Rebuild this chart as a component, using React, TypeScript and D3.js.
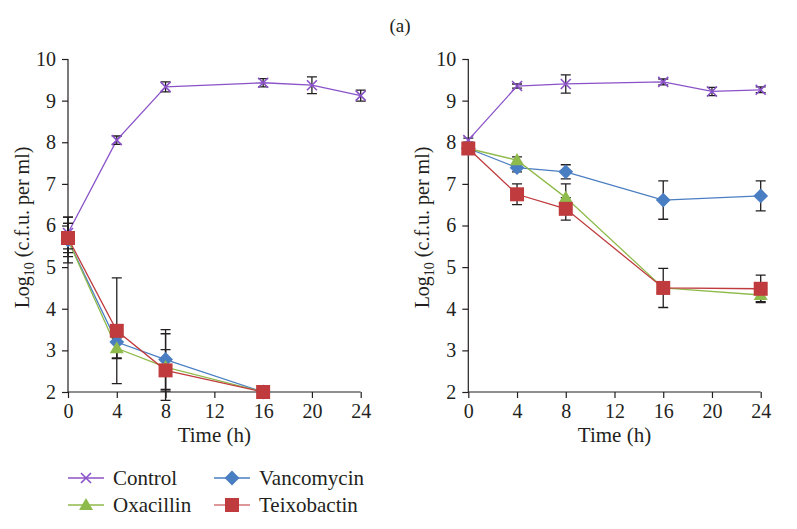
import React, { useEffect, useRef } from 'react';
import * as d3 from 'd3';

// time points (h)
const timesFull = [0, 4, 8, 16, 20, 24];
const timesLeftDrug = [0, 4, 8, 16];
const timesRightDrug = [0, 4, 8, 16, 24];
const xTicks = [0, 4, 8, 12, 16, 20, 24];
const yTicks = [2, 3, 4, 5, 6, 7, 8, 9, 10];

// left panel
const leftControl = [5.82, 8.05, 9.33, 9.43, 9.37, 9.12];
const leftControlErr = [0.38, 0.1, 0.12, 0.1, 0.2, 0.13];
const leftVanco = [5.65, 3.2, 2.78, 2.0];
const leftVancoErr = [0.55, 0.38, 0.72, 0];
const leftOxa = [5.65, 3.05, 2.6, 2.0];
const leftOxaErr = [0.4, 0.25, 0.8, 0];
const leftTeixo = [5.7, 3.47, 2.52, 2.0];
const leftTeixoErr = [0.35, 1.27, 0.5, 0];

// right panel
const rightControl = [8.05, 9.35, 9.4, 9.45, 9.22, 9.26];
const rightControlErr = [0.05, 0.05, 0.22, 0.07, 0.1, 0.07];
const rightVanco = [7.85, 7.39, 7.29, 6.61, 6.71];
const rightVancoErr = [0.05, 0.1, 0.17, 0.46, 0.36];
const rightOxa = [7.85, 7.57, 6.67, 4.5, 4.33];
const rightOxaErr = [0.05, 0.08, 0.33, 0.1, 0.16];
const rightTeixo = [7.85, 6.75, 6.4, 4.5, 4.48];
const rightTeixoErr = [0.05, 0.25, 0.27, 0.47, 0.33];

const seriesNames = ['Control', 'Vancomycin', 'Oxacillin', 'Teixobactin'];
const colors = {
  Control: '#8a52c8',
  Vancomycin: '#4a7ec2',
  Oxacillin: '#8fba4c',
  Teixobactin: '#bf3b3d',
};

const font = '"Liberation Serif", "Times New Roman", serif';

const App = () => {
  const ref = useRef(null);

  useEffect(() => {
    const width = 797;
    const height = 529;
    const top = 59;
    const bottom = 392;

    const svg = d3.select(ref.current);
    svg.selectAll('*').remove();
    svg.attr('width', width).attr('height', height).attr('viewBox', [0, 0, width, height]);
    svg.append('rect').attr('width', width).attr('height', height).attr('fill', 'white');

    svg.append('text')
      .attr('x', 400).attr('y', 32)
      .attr('text-anchor', 'middle')
      .attr('font-family', font).attr('font-size', 19)
      .attr('fill', '#231f20')
      .text('(a)');

    const drawMarker = (g, name, cx, cy) => {
      const c = colors[name];
      if (name === 'Control') {
        const s = 5;
        g.append('path')
          .attr('d', `M${cx - s},${cy - s}L${cx + s},${cy + s}M${cx - s},${cy + s}L${cx + s},${cy - s}`)
          .attr('stroke', c).attr('stroke-width', 1.6).attr('fill', 'none');
      } else if (name === 'Vancomycin') {
        g.append('path')
          .attr('d', d3.symbol(d3.symbolSquare, 110)())
          .attr('transform', `translate(${cx},${cy}) rotate(45)`)
          .attr('fill', c);
      } else if (name === 'Oxacillin') {
        g.append('path')
          .attr('d', d3.symbol(d3.symbolTriangle, 85)())
          .attr('transform', `translate(${cx},${cy + 1})`)
          .attr('fill', c);
      } else {
        g.append('path')
          .attr('d', d3.symbol(d3.symbolSquare, 196)())
          .attr('transform', `translate(${cx},${cy})`)
          .attr('fill', c);
      }
    };

    const panel = (left, right, series) => {
      const x = d3.scaleLinear().domain([0, 24]).range([left, right]);
      const y = d3.scaleLinear().domain([2, 10]).range([bottom, top]);
      const g = svg.append('g');

      const xa = g.append('g')
        .attr('transform', `translate(0,${bottom})`)
        .call(d3.axisBottom(x).tickValues(xTicks).tickSize(6).tickPadding(6).tickFormat(d3.format('d')));
      const ya = g.append('g')
        .attr('transform', `translate(${left},0)`)
        .call(d3.axisLeft(y).tickValues(yTicks).tickSize(6).tickPadding(6));
      [xa, ya].forEach(a => {
        a.select('.domain').attr('stroke', '#231f20').attr('stroke-width', 1.2)
          .attr('d', a === xa ? `M${left},0H${right}` : `M0,${bottom}V${top}`);
        a.selectAll('.tick line').attr('stroke', '#231f20').attr('stroke-width', 1.2);
        a.selectAll('.tick text')
          .attr('font-family', font).attr('font-size', 20).attr('fill', '#231f20');
      });

      g.append('text')
        .attr('x', (left + right) / 2).attr('y', 442)
        .attr('text-anchor', 'middle')
        .attr('font-family', font).attr('font-size', 21).attr('fill', '#231f20')
        .text('Time (h)');

      const yl = g.append('text')
        .attr('transform', `translate(${left - 39},${(top + bottom) / 2 + 2}) rotate(-90)`)
        .attr('text-anchor', 'middle')
        .attr('font-family', font).attr('font-size', 20).attr('fill', '#231f20');
      yl.append('tspan').text('Log');
      yl.append('tspan').attr('font-size', 14).attr('dy', 5).text('10');
      yl.append('tspan').attr('dy', -5).text(' (c.f.u. per ml)');

      const line = d3.line().x(d => x(d.t)).y(d => y(d.v));
      const pts = series.map(s => ({
        name: s.name,
        data: s.times.map((t, i) => ({ t, v: s.values[i], e: s.err[i] })),
      }));

      pts.forEach(s => {
        g.append('path')
          .attr('d', line(s.data))
          .attr('fill', 'none')
          .attr('stroke', colors[s.name])
          .attr('stroke-width', 1.3);
      });

      pts.forEach(s => {
        s.data.forEach(d => {
          if (!d.e) return;
          const cx = x(d.t);
          const y0 = y(d.v - d.e);
          const y1 = y(d.v + d.e);
          g.append('path')
            .attr('d', `M${cx},${y0}V${y1}M${cx - 5},${y0}H${cx + 5}M${cx - 5},${y1}H${cx + 5}`)
            .attr('stroke', '#231f20').attr('stroke-width', 1.3).attr('fill', 'none');
        });
      });

      pts.forEach(s => {
        s.data.forEach(d => drawMarker(g, s.name, x(d.t), y(d.v)));
      });
    };

    panel(68, 360.7, [
      { name: 'Control', times: timesFull, values: leftControl, err: leftControlErr },
      { name: 'Vancomycin', times: timesLeftDrug, values: leftVanco, err: leftVancoErr },
      { name: 'Oxacillin', times: timesLeftDrug, values: leftOxa, err: leftOxaErr },
      { name: 'Teixobactin', times: timesLeftDrug, values: leftTeixo, err: leftTeixoErr },
    ]);
    panel(468.3, 760.7, [
      { name: 'Control', times: timesFull, values: rightControl, err: rightControlErr },
      { name: 'Vancomycin', times: timesRightDrug, values: rightVanco, err: rightVancoErr },
      { name: 'Oxacillin', times: timesRightDrug, values: rightOxa, err: rightOxaErr },
      { name: 'Teixobactin', times: timesRightDrug, values: rightTeixo, err: rightTeixoErr },
    ]);

    // legend
    const legend = svg.append('g');
    seriesNames.forEach((name, i) => {
      const col = i % 2;
      const row = Math.floor(i / 2);
      const lx = col === 0 ? 68 : 214;
      const ly = 478 + row * 27;
      legend.append('line')
        .attr('x1', lx).attr('x2', lx + 36)
        .attr('y1', ly).attr('y2', ly)
        .attr('stroke', colors[name]).attr('stroke-width', 1.5)
        .attr('stroke-opacity', name === 'Teixobactin' ? 0.7 : 1);
      drawMarker(legend, name, lx + 18, ly);
      legend.append('text')
        .attr('x', lx + 45).attr('y', ly)
        .attr('dy', '0.33em')
        .attr('font-family', font).attr('font-size', 21).attr('fill', '#231f20')
        .text(name);
    });
  }, []);

  return <svg ref={ref} style={{ position: 'absolute', left: 0, top: 0, display: 'block' }} />;
};

export default App;
